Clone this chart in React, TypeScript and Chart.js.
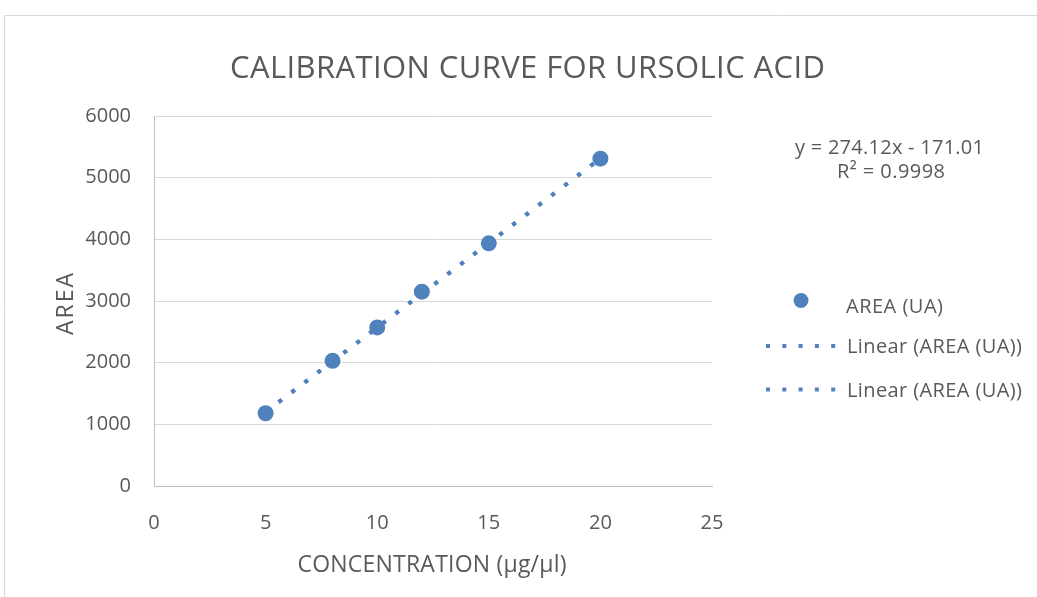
import React, { useEffect, useRef } from "react";
import { Chart, registerables } from "chart.js";

Chart.register(...registerables);

// ---- data ----
const concentrations = [5, 8, 10, 12, 15, 20];
const areas = [1180, 2030, 2572, 3152, 3935, 5308];
const trendSlope = 274.12;
const trendIntercept = -171.01;
const xTicks = [0, 5, 10, 15, 20, 25];
const yTicks = [0, 1000, 2000, 3000, 4000, 5000, 6000];
const chartTitle = "CALIBRATION CURVE FOR URSOLIC ACID";
const xTitle = "CONCENTRATION (µg/µl)";
const yTitle = "AREA";
const seriesName = "AREA (UA)";
const trendNames = ["Linear (AREA (UA))", "Linear (AREA (UA))"];
const equationLines = ["y = 274.12x - 171.01", "R² = 0.9998"];

const BLUE = "#4f81bd";
const TEXT = "#595959";
const FONT = "'Open Sans', 'Noto Sans', sans-serif";

function fitText(
  ctx: CanvasRenderingContext2D,
  text: string,
  x: number,
  y: number,
  width: number,
  align: "left" | "center"
) {
  ctx.save();
  (ctx as any).letterSpacing = "0px";
  ctx.textAlign = "left";
  const w = ctx.measureText(text).width;
  const left = align === "center" ? x - width / 2 : x;
  if (w > width) {
    ctx.translate(left, y);
    ctx.scale(width / w, 1);
    ctx.fillText(text, 0, 0);
  } else {
    const n = Array.from(text).length;
    const ls = n > 1 ? (width - w) / (n - 1) : 0;
    (ctx as any).letterSpacing = ls + "px";
    ctx.fillText(text, left, y);
  }
  ctx.restore();
}

const decorPlugin = {
  id: "decor",
  beforeDraw(chart: any) {
    const ctx: CanvasRenderingContext2D = chart.ctx;
    ctx.save();
    ctx.fillStyle = "#ffffff";
    ctx.fillRect(0, 0, chart.width, chart.height);
    ctx.strokeStyle = "#d9d9d9";
    ctx.lineWidth = 1;
    ctx.beginPath();
    ctx.moveTo(4.5, chart.height + 2);
    ctx.lineTo(4.5, 15.5);
    ctx.lineTo(chart.width + 2, 15.5);
    ctx.stroke();
    ctx.restore();
  },
  afterDraw(chart: any) {
    const ctx: CanvasRenderingContext2D = chart.ctx;
    ctx.save();
    ctx.fillStyle = TEXT;
    ctx.textBaseline = "alphabetic";

    // title
    ctx.font = `31px ${FONT}`;
    fitText(ctx, chartTitle, 527.5, 78, 595, "center");

    // x axis title
    ctx.font = `23px ${FONT}`;
    fitText(ctx, xTitle, 432, 572, 269, "center");

    // y axis title
    ctx.save();
    ctx.translate(73, 304);
    ctx.rotate(-Math.PI / 2);
    ctx.font = `23px ${FONT}`;
    fitText(ctx, yTitle, 0, 0, 62, "center");
    ctx.restore();

    // equation
    ctx.font = `20px ${FONT}`;
    fitText(ctx, equationLines[0], 889.5, 154, 189, "center");
    fitText(ctx, equationLines[1], 891, 178, 108, "center");

    // legend
    ctx.fillStyle = BLUE;
    ctx.beginPath();
    ctx.arc(801, 300.5, 7.5, 0, Math.PI * 2);
    ctx.fill();
    ctx.fillStyle = TEXT;
    ctx.font = `20px ${FONT}`;
    fitText(ctx, seriesName, 846, 313, 97, "left");

    const rows = [346, 389.5];
    trendNames.forEach((name, i) => {
      const y = rows[i];
      ctx.save();
      ctx.strokeStyle = BLUE;
      ctx.lineWidth = 4;
      ctx.setLineDash([4, 12.3]);
      ctx.beginPath();
      ctx.moveTo(766, y);
      ctx.lineTo(836, y);
      ctx.stroke();
      ctx.restore();
      fitText(ctx, name, 847, y + 7, 175, "left");
    });
    ctx.restore();
  },
};

export default function App() {
  const ref = useRef<HTMLCanvasElement | null>(null);

  useEffect(() => {
    document.body.style.margin = "0";
    const canvas = ref.current;
    if (!canvas) return;
    const xMin = Math.min(...concentrations);
    const xMax = Math.max(...concentrations);
    const trendData = [
      { x: xMin, y: trendSlope * xMin + trendIntercept },
      { x: xMax, y: trendSlope * xMax + trendIntercept },
    ];
    const trendDataset = (label: string) => ({
      label,
      data: trendData,
      showLine: true,
      borderColor: BLUE,
      backgroundColor: BLUE,
      borderWidth: 4,
      borderDash: [4, 12.3],
      borderCapStyle: "butt" as const,
      pointRadius: 0,
      pointHoverRadius: 0,
    });
    const chart = new Chart(canvas, {
      type: "scatter",
      data: {
        datasets: [
          {
            label: seriesName,
            data: concentrations.map((c, i) => ({ x: c, y: areas[i] })),
            backgroundColor: BLUE,
            borderColor: BLUE,
            pointRadius: 8,
            pointBorderWidth: 0,
          },
          trendDataset(trendNames[0]),
          trendDataset(trendNames[1]),
        ],
      },
      options: {
        animation: false,
        responsive: false,
        devicePixelRatio: 1,
        layout: { padding: { top: 116, right: 325, bottom: 0, left: 0 } },
        plugins: {
          legend: { display: false },
          title: { display: false },
          tooltip: { enabled: false },
        },
        scales: {
          x: {
            type: "linear",
            min: xTicks[0],
            max: xTicks[xTicks.length - 1],
            afterBuildTicks: (scale: any) => {
              scale.ticks = xTicks.map((v) => ({ value: v }));
            },
            afterFit: (scale: any) => {
              scale.height = 111;
            },
            grid: { display: true, color: "rgba(0,0,0,0)", drawTicks: false },
            border: { display: true, color: "#bfbfbf", width: 1 },
            ticks: {
              color: TEXT,
              font: { family: FONT, size: 20 },
              padding: 25,
              maxRotation: 0,
              callback: (v: any) => String(v),
            },
          },
          y: {
            type: "linear",
            min: yTicks[0],
            max: yTicks[yTicks.length - 1],
            afterBuildTicks: (scale: any) => {
              scale.ticks = yTicks.map((v) => ({ value: v }));
            },
            afterFit: (scale: any) => {
              scale.width = 154;
            },
            grid: { color: "#d9d9d9", lineWidth: 1, drawTicks: false },
            border: { display: true, color: "#bfbfbf", width: 1 },
            ticks: {
              color: TEXT,
              font: { family: FONT, size: 20 },
              padding: 23,
              callback: (v: any) => String(v),
            },
          },
        },
      },
      plugins: [decorPlugin],
    });
    return () => chart.destroy();
  }, []);

  return (
    <div style={{ width: 1037, height: 597 }}>
      <canvas ref={ref} width={1037} height={597} style={{ display: "block", width: 1037, height: 597 }} />
    </div>
  );
}
